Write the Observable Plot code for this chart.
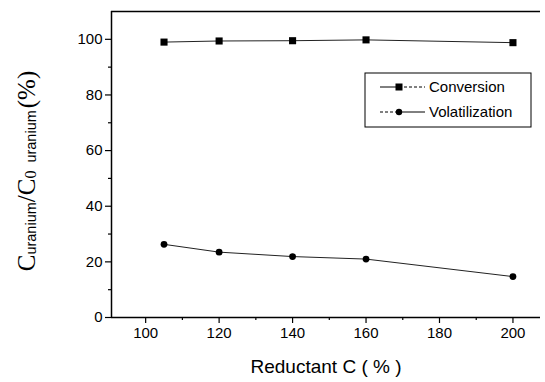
<!DOCTYPE html>
<html><head><meta charset="utf-8">
<script src="https://cdn.jsdelivr.net/npm/d3@7"></script>
<script src="https://cdn.jsdelivr.net/npm/@observablehq/plot@0.6"></script>
<style>body{margin:0;background:#fff} svg{display:block}</style>
</head><body><div id="chart"></div>
<script>
const reductant = [105, 120, 140, 160, 200];
const conversion = [99.0, 99.4, 99.5, 99.8, 98.8];
const volatilization = [26.3, 23.5, 21.9, 21.0, 14.7];
const seriesNames = ["Conversion", "Volatilization"];
const xMajorTicks = [100, 120, 140, 160, 180, 200];
const xMinorTicks = [110, 130, 150, 170, 190];
const yMajorTicks = [0, 20, 40, 60, 80, 100];
const yMinorTicks = [10, 30, 50, 70, 90];
const xLabel = "Reductant C ( % )";

const conv = reductant.map((x, i) => ({x, y: conversion[i], s: seriesNames[0]}));
const vol = reductant.map((x, i) => ({x, y: volatilization[i], s: seriesNames[1]}));

const chart = Plot.plot({
  width: 545, height: 382,
  marginLeft: 111, marginRight: 5, marginTop: 11, marginBottom: 65,
  style: {fontFamily: "'Liberation Sans', Arial, sans-serif", color: "#000", background: "#fff"},
  x: {domain: [90.7, 207.5]},
  y: {domain: [0, 110]},
  marks: [
    Plot.axisX(xMajorTicks, {tickSize: 6, tickPadding: 4, fontSize: 15, label: null, strokeWidth: 1.2}),
    Plot.axisX(xMinorTicks, {tickSize: 3, tickFormat: () => "", label: null, strokeWidth: 1.2}),
    Plot.axisY(yMajorTicks, {tickSize: 6, tickPadding: 3, fontSize: 15, label: null, strokeWidth: 1.2}),
    Plot.axisY(yMinorTicks, {tickSize: 3, tickFormat: () => "", label: null, strokeWidth: 1.2}),
    Plot.ruleY([0], {strokeWidth: 1.5}),
    Plot.ruleY([110], {strokeWidth: 1.5}),
    Plot.ruleX([90.7], {strokeWidth: 1.5}),
    Plot.line(conv, {x: "x", y: "y", stroke: "#222", strokeWidth: 1}),
    Plot.line(vol, {x: "x", y: "y", stroke: "#222", strokeWidth: 1}),
    Plot.dot(conv, {x: "x", y: "y", symbol: "square", fill: "#000", r: 4}),
    Plot.dot(vol, {x: "x", y: "y", symbol: "circle", fill: "#000", r: 3.4}),
    Plot.text([xLabel], {frameAnchor: "bottom", dy: 49, fontSize: 19, lineAnchor: "middle", fill: "#000"})
  ]
});
document.getElementById("chart").appendChild(chart);

const svg = d3.select(chart);
// y-axis label with subscripts
const t = svg.append("text")
  .attr("transform", "translate(35,171) rotate(-90)")
  .attr("text-anchor", "middle")
  .attr("font-family", "'Liberation Serif', 'Times New Roman', serif")
  .attr("font-size", 25)
  .attr("fill", "#000");
t.append("tspan").text("C");
t.append("tspan").attr("font-size", 14.5).attr("font-family", "'Liberation Sans', Arial, sans-serif").attr("dy", 1).text("uranium");
t.append("tspan").attr("dy", -1).text("/C");
t.append("tspan").attr("font-size", 16).attr("dy", 1).text("0");
t.append("tspan").attr("font-size", 14.5).attr("font-family", "'Liberation Sans', Arial, sans-serif").attr("dx", 8).text("uranium");
t.append("tspan").attr("dy", -1).attr("dx", 2).text("(%)");

// legend
const lg = svg.append("g").attr("text-anchor", "start");
lg.append("rect").attr("x", 365).attr("y", 73).attr("width", 166).attr("height", 54)
  .attr("fill", "#fff").attr("stroke", "#000").attr("stroke-width", 1);
const rows = [
  {name: seriesNames[0], y: 87, sym: "square", left: null, right: "3,2"},
  {name: seriesNames[1], y: 112, sym: "circle", left: "3,2", right: null}
];
rows.forEach(r => {
  lg.append("line").attr("x1", 380).attr("x2", 399).attr("y1", r.y).attr("y2", r.y)
    .attr("stroke", "#000").attr("stroke-width", 1).attr("stroke-dasharray", r.left);
  lg.append("line").attr("x1", 399).attr("x2", 425).attr("y1", r.y).attr("y2", r.y)
    .attr("stroke", "#000").attr("stroke-width", 1).attr("stroke-dasharray", r.right);
  if (r.sym === "square") lg.append("rect").attr("x", 395.5).attr("y", r.y - 3.5).attr("width", 7).attr("height", 7).attr("fill", "#000");
  else lg.append("circle").attr("cx", 399).attr("cy", r.y).attr("r", 3.2).attr("fill", "#000");
  lg.append("text").attr("x", 429).attr("y", r.y).attr("dy", "0.35em").attr("font-size", 15)
    .attr("text-anchor", "start")
    .attr("font-family", "'Liberation Sans', Arial, sans-serif").attr("fill", "#000").text(r.name);
});
</script>
</body></html>
